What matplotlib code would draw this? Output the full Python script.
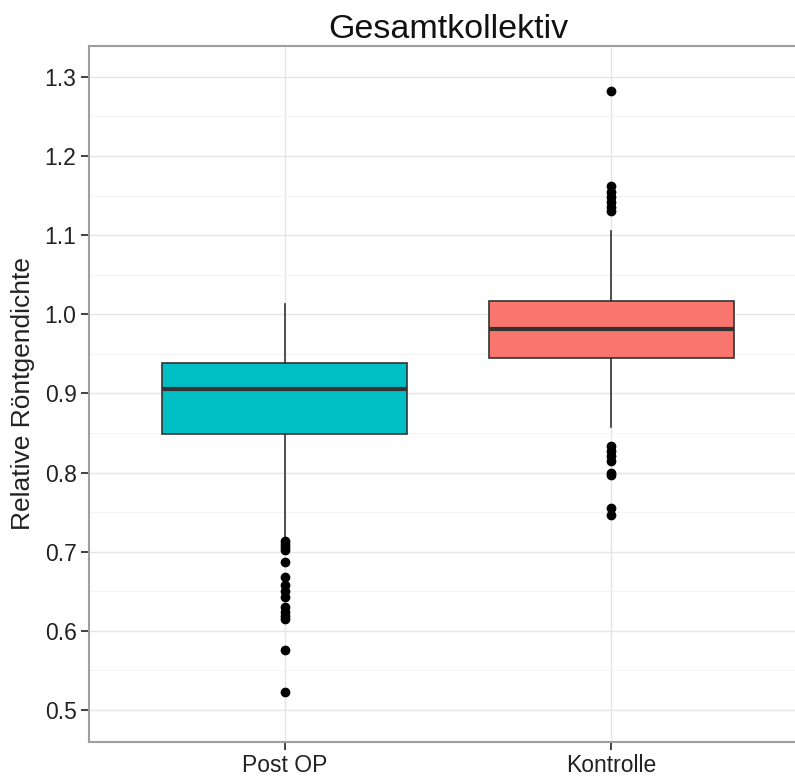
import matplotlib
matplotlib.use("Agg")
import matplotlib.pyplot as plt
from matplotlib.ticker import MultipleLocator

plt.rcParams['font.family'] = ['Liberation Sans', 'DejaVu Sans']

categories = ["Post OP", "Kontrolle"]
colors = ["#00BFC4", "#F8766D"]
q1 = [0.849, 0.945]
med = [0.906, 0.981]
q3 = [0.938, 1.017]
whislo = [0.719, 0.858]
whishi = [1.013, 1.105]
fliers = [
    [0.714, 0.710, 0.706, 0.702, 0.687, 0.668, 0.658, 0.650, 0.643,
     0.630, 0.624, 0.619, 0.615, 0.576, 0.523],
    [1.282, 1.162, 1.155, 1.148, 1.142, 1.136, 1.130,
     0.833, 0.827, 0.821, 0.815, 0.800, 0.797, 0.755, 0.746],
]
yticks = [0.5, 0.6, 0.7, 0.8, 0.9, 1.0, 1.1, 1.2, 1.3]

W, H = 795, 776
fig = plt.figure(figsize=(W / 100, H / 100), dpi=100)
left, right, top, bottom = 89, 807, 46, 742
ax = fig.add_axes([left / W, 1 - bottom / H, (right - left) / W, (bottom - top) / H])

stats = []
for i in range(len(categories)):
    stats.append(dict(label=categories[i], q1=q1[i], med=med[i], q3=q3[i],
                      whislo=whislo[i], whishi=whishi[i], fliers=fliers[i]))

bp = ax.bxp(stats, positions=[1, 2], widths=0.75, patch_artist=True,
            showcaps=False,
            boxprops=dict(edgecolor="#333333", linewidth=1.2),
            whiskerprops=dict(color="#333333", linewidth=1.2),
            medianprops=dict(color="#333333", linewidth=3.0, solid_capstyle="butt"),
            flierprops=dict(marker="o", markerfacecolor="black", markeredgecolor="black",
                            markersize=6, linestyle="none"),
            zorder=3)
for patch, c in zip(bp["boxes"], colors):
    patch.set_facecolor(c)

ax.set_xlim(0.4, 2.6)
ax.set_ylim(0.4596, 1.339)
ax.set_yticks(yticks)
ax.set_yticklabels([f"{v:.1f}" for v in yticks])
ax.yaxis.set_minor_locator(MultipleLocator(0.05))
ax.set_xticks([1, 2])
ax.set_xticklabels(categories)

ax.set_axisbelow(True)
ax.grid(which="major", color="#E5E5E5", linewidth=1.0)
ax.grid(which="minor", axis="y", color="#F3F3F3", linewidth=0.8)

for s in ["left", "bottom", "top"]:
    ax.spines[s].set_color("#9E9E9E")
    ax.spines[s].set_linewidth(1.5)
ax.spines["right"].set_visible(False)

ax.tick_params(axis="both", which="major", length=6, width=1.3, color="#333333",
               labelsize=16.5, labelcolor="#222222", pad=3)
ax.tick_params(axis="y", which="minor", length=0)

ax.set_ylabel("Relative Röntgendichte", fontsize=19, color="#222222", labelpad=7)
ax.set_title("Gesamtkollektiv", fontsize=24.5, color="#111111", pad=6)

fig.savefig("out.png", dpi=100)
